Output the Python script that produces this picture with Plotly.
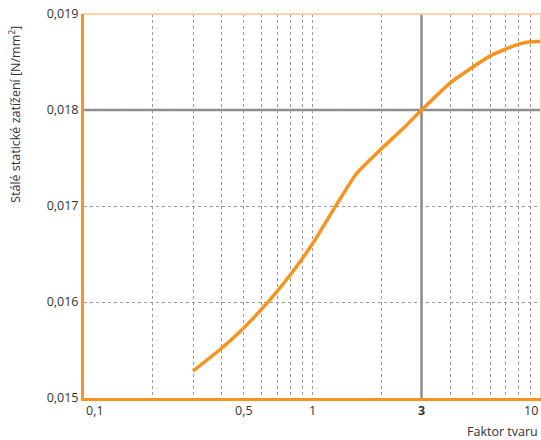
import numpy as np
import plotly.graph_objects as go

# Data
faktor = [0.3, 0.4, 0.5, 0.6, 0.7, 0.8, 0.9, 1.0, 1.556, 2.0, 2.5, 3.0, 4.0, 5.0, 6.0, 7.0, 8.0, 9.0, 10.0]
zatizeni = [0.01528, 0.015518, 0.01573, 0.015928, 0.016111, 0.016284, 0.016448, 0.016606,
            0.017336, 0.017595, 0.01781, 0.018, 0.018281, 0.018443, 0.018564,
            0.018634, 0.018686, 0.01871, 0.018713]

x_tick_vals = [0.1, 0.5, 1, 3, 10]
x_tick_text = ["0,1", "0,5", "1", "<b>3</b>", "10"]
x_grid_vals = [0.2, 0.3, 0.4, 0.5, 0.6, 0.7, 0.8, 0.9, 1, 2, 4, 5, 6, 7, 8, 9]
y_tick_vals = [0.015, 0.016, 0.017, 0.018, 0.019]
y_tick_text = ["0,015", "0,016", "0,017", "0,018", "0,019"]
ref_x = 3
ref_y = 0.018

ORANGE = "#f7931e"
LIGHT_ORANGE = "#fdd3a6"
GRAY = "#8a8a8a"
TEXT = "#333333"
FONT = "Open Sans"

fig = go.Figure()
fig.add_trace(go.Scatter(
    x=faktor, y=zatizeni, mode="lines",
    line=dict(color=ORANGE, width=3.5, shape="spline", smoothing=0.5),
    hoverinfo="skip", showlegend=False,
))

fig.update_layout(
    width=541, height=440,
    margin=dict(l=84, r=0, t=14, b=42),
    paper_bgcolor="white", plot_bgcolor="white",
    font=dict(family=FONT, size=12.5, color=TEXT),
    showlegend=False,
)
fig.update_xaxes(
    type="log", range=[-1, 1],
    tickmode="array", tickvals=x_grid_vals, showticklabels=False,
    ticks="", showgrid=True, gridcolor="#9a9a9a", gridwidth=1, griddash="3px,3px",
    showline=True, linecolor=ORANGE, linewidth=3, zeroline=False,
)
fig.update_yaxes(
    range=[0.015, 0.019],
    tickmode="array", tickvals=y_tick_vals, ticktext=y_tick_text,
    ticks="", showgrid=True, gridcolor="#9a9a9a", gridwidth=1, griddash="3px,3px",
    showline=True, linecolor=ORANGE, linewidth=3, zeroline=False,
    tickfont=dict(family=FONT, size=12.5, color=TEXT),
)

# reference lines
fig.add_shape(type="line", xref="x", yref="paper", x0=ref_x, x1=ref_x, y0=0, y1=1,
              line=dict(color=GRAY, width=2.5), layer="between")
fig.add_shape(type="line", xref="paper", yref="y", x0=0, x1=1, y0=ref_y, y1=ref_y,
              line=dict(color=GRAY, width=2.5), layer="between")
# light borders top / right
fig.add_shape(type="line", xref="paper", yref="paper", x0=0, x1=1, y0=1, y1=1,
              line=dict(color=LIGHT_ORANGE, width=2), layer="above")
fig.add_shape(type="line", xref="paper", yref="paper", x0=1, x1=1, y0=0, y1=1,
              line=dict(color=LIGHT_ORANGE, width=2), layer="above")

# x tick labels
for i, (v, t) in enumerate(zip(x_tick_vals, x_tick_text)):
    anchor = "left" if i == 0 else ("right" if i == len(x_tick_vals) - 1 else "center")
    fig.add_annotation(x=np.log10(v), xref="x", y=-0.033, yref="paper",
                       text=t, showarrow=False, xanchor=anchor, yanchor="middle",
                       xshift=-1 if anchor == "right" else 0,
                       font=dict(family=FONT, size=12.5, color=TEXT))

fig.add_annotation(x=1, xref="paper", y=-0.087, yref="paper", text="Faktor tvaru",
                   showarrow=False, xanchor="right", yanchor="middle", xshift=-2,
                   borderpad=0,
                   font=dict(family=FONT, size=12.5, color=TEXT))
fig.add_annotation(x=-0.151, xref="paper", y=0.74, yref="paper",
                   text="Stálé statické zatížení [N/mm<sup>2</sup>]",
                   showarrow=False, textangle=-90, xanchor="center", yanchor="middle",
                   font=dict(family=FONT, size=12.5, color=TEXT))

fig.write_html(
    "out.html",
    config={"displayModeBar": False, "staticPlot": True},
    post_script="document.body.style.margin='0';document.body.style.padding='0';"
                "document.body.style.overflow='hidden';",
)
